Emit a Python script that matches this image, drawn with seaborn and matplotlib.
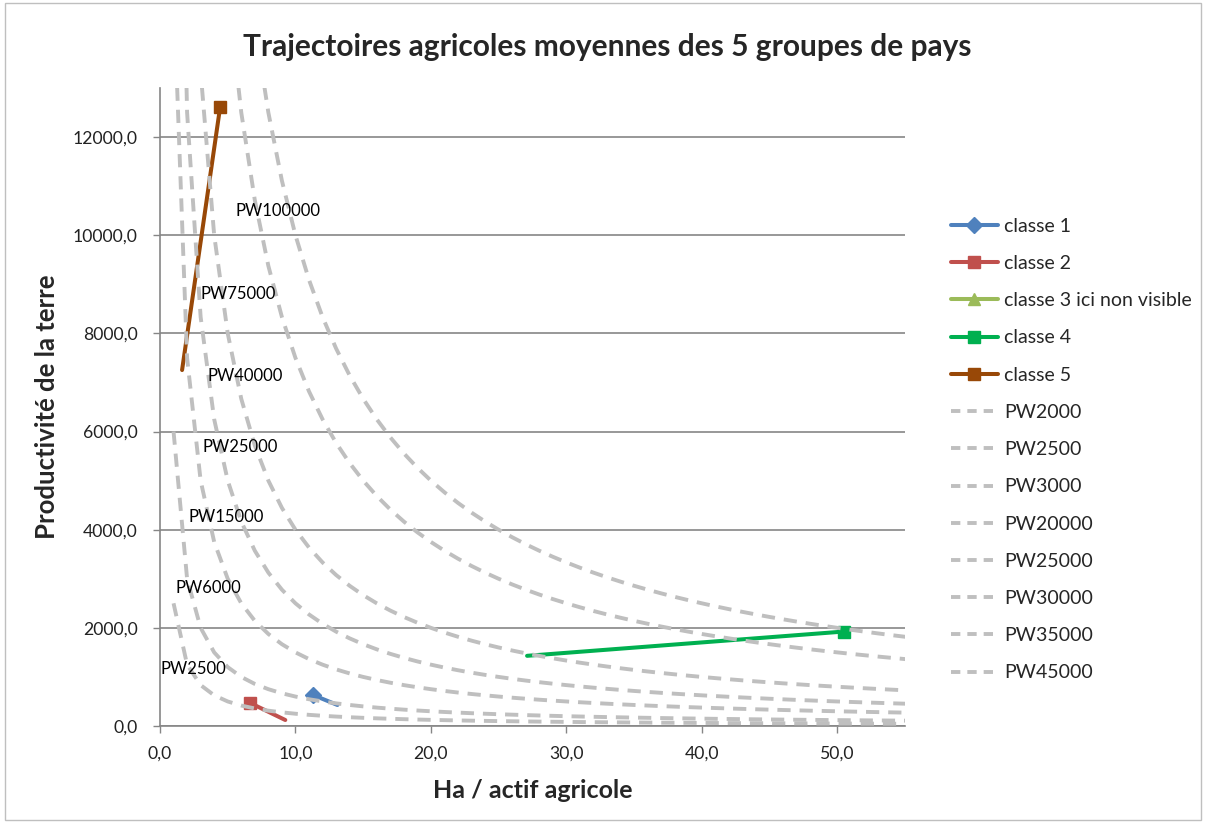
import numpy as np
import pandas as pd
import matplotlib
matplotlib.use("Agg")
import matplotlib.pyplot as plt
import seaborn as sns
from matplotlib.lines import Line2D
from matplotlib.patches import Rectangle
from matplotlib.ticker import FuncFormatter, MultipleLocator

# trajectories of the 5 groups (start point, end point)
classes = ["classe 1", "classe 2", "classe 3 ici non visible", "classe 4", "classe 5"]
class_x = [[13.1, 11.3], [9.25, 6.66], [np.nan, np.nan], [27.1, 50.5], [1.63, 4.44]]
class_y = [[428, 632], [122, 469], [np.nan, np.nan], [1430, 1925], [7253, 12612]]
class_colors = ["#4F81BD", "#C0504D", "#9BBB59", "#00B050", "#984807"]
class_markers = ["D", "s", "^", "s", "s"]

# iso labour-productivity curves
pw_levels = [2500, 6000, 15000, 25000, 40000, 75000, 100000]
pw_x = np.arange(1, 61)
legend_pw = ["PW2000", "PW2500", "PW3000", "PW20000", "PW25000", "PW30000", "PW35000", "PW45000"]

# in-plot curve labels
lab_text = ["PW2500", "PW6000", "PW15000", "PW25000", "PW40000", "PW75000", "PW100000"]
lab_x = [2.5, 3.6, 4.9, 5.9, 6.3, 5.8, 8.7]
lab_y = [1160, 2810, 4258, 5685, 7130, 8800, 10490]

sns.set_theme(style="white")
plt.rcParams["font.family"] = ["Lato", "DejaVu Sans"]

fig = plt.figure(figsize=(12.06, 8.23), dpi=100)
ax = fig.add_axes([160 / 1206, 1 - 726 / 823, 745 / 1206, 638 / 823])

for i, name in enumerate(classes):
    df = pd.DataFrame({"x": class_x[i], "y": class_y[i]})
    if df.dropna().empty:
        continue
    sns.lineplot(data=df, x="x", y="y", ax=ax, color=class_colors[i], lw=2.9,
                 sort=False, estimator=None, legend=False, zorder=3)
    ax.plot(df["x"].iloc[-1], df["y"].iloc[-1], marker=class_markers[i],
            ms=9 if class_markers[i] == "s" else 8, color=class_colors[i], zorder=3)

for pw in pw_levels:
    df = pd.DataFrame({"x": pw_x, "y": pw / pw_x})
    sns.lineplot(data=df, x="x", y="y", ax=ax, color="#BFBFBF", lw=2.8,
                 sort=False, estimator=None, legend=False, zorder=4,
                 linestyle=(0, (3.4, 2.3)))

for t, x, y in zip(lab_text, lab_x, lab_y):
    ax.text(x, y, t, ha="center", va="center", fontsize=12, color="black", zorder=5)

ax.set_xlim(0, 55)
ax.set_ylim(0, 13000)
ax.xaxis.set_major_locator(MultipleLocator(10))
ax.yaxis.set_major_locator(MultipleLocator(2000))
fmt = FuncFormatter(lambda v, p: f"{v:.1f}".replace(".", ","))
ax.xaxis.set_major_formatter(fmt)
ax.yaxis.set_major_formatter(fmt)
ax.grid(axis="y", color="#868686", lw=1.2)
ax.set_axisbelow(True)
for s in ["top", "right"]:
    ax.spines[s].set_visible(False)
for s in ["left", "bottom"]:
    ax.spines[s].set_color("#868686")
    ax.spines[s].set_linewidth(1.2)
ax.tick_params(axis="both", which="major", length=5, width=1, color="#868686",
               labelsize=12.7, labelcolor="#222222", direction="out", bottom=True, left=True)
ax.tick_params(axis="x", pad=9)
ax.tick_params(axis="y", pad=11)
ax.set_xlabel("Ha / actif agricole", fontsize=18, fontweight="bold", labelpad=13)
ax.set_ylabel("Productivité de la terre", fontsize=18.5, fontweight="bold", labelpad=10)

fig.text(607 / 1206, 1 - 47 / 823, "Trajectoires agricoles moyennes des 5 groupes de pays",
         ha="center", va="center", fontsize=21.5, fontweight="bold")

handles = [Line2D([], [], color=c, lw=2.9, marker=m, ms=9 if m != "D" else 8)
           for c, m in zip(class_colors, class_markers)]
handles += [Line2D([], [], color="#BFBFBF", lw=2.8, linestyle=(0, (2.4, 1.8))) for _ in legend_pw]
leg = fig.legend(handles, classes + legend_pw, loc="upper left",
                 bbox_to_anchor=(945 / 1206, 1 - 212 / 823), frameon=False,
                 fontsize=14, handlelength=2.4, handletextpad=0.35, labelspacing=1.04,
                 borderaxespad=0, borderpad=0.3)

fig.add_artist(Rectangle((0.004, 0.004), 0.992, 0.992, transform=fig.transFigure,
                         fill=False, edgecolor="#BFBFBF", lw=1))

fig.savefig("out.png", dpi=100)
